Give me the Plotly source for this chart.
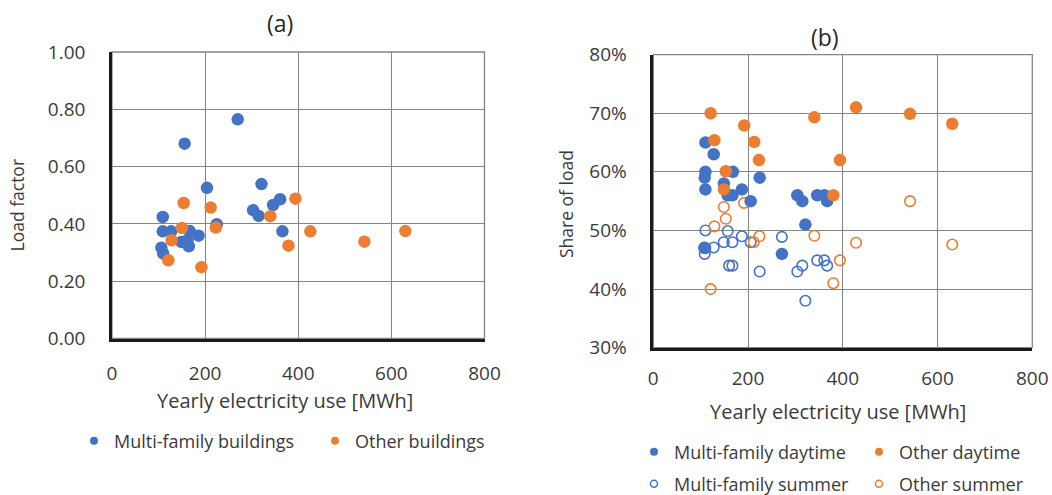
import plotly.graph_objects as go

# ---------------- data ----------------
# Panel (a): load factor vs yearly electricity use
mf_x_a = [156, 270, 204, 321, 361, 346, 303, 315, 109, 225, 366, 109, 127, 167, 186, 149, 162, 165, 106, 110]
mf_lf_a = [0.68, 0.765, 0.526, 0.539, 0.486, 0.466, 0.448, 0.428, 0.424, 0.399, 0.374, 0.374, 0.374, 0.375,
           0.359, 0.337, 0.343, 0.322, 0.317, 0.296]
ot_x_a = [154, 212, 150, 223, 128, 121, 192, 394, 340, 426, 379, 542, 630]
ot_lf_a = [0.473, 0.457, 0.386, 0.387, 0.343, 0.273, 0.249, 0.488, 0.427, 0.374, 0.324, 0.338, 0.375]

# Panel (b): share of load (%) vs yearly electricity use
mf_x_day = [110, 127.5, 110, 108.5, 168, 224.5, 149, 187, 110, 157, 167, 205.5, 304, 314.5, 346, 361, 367, 321, 271.5, 108]
mf_day = [65, 63, 60, 59, 60, 59, 58, 57, 57, 56, 56, 55, 56, 55, 56, 56, 55, 51, 46, 47]
mf_x_sum = [110, 157, 187, 271.5, 148.6, 167, 205.5, 108, 127.5, 108.5, 160, 167, 224.5, 304, 314.5, 346, 361, 367, 321, 110]
mf_sum = [50, 49.9, 49, 48.9, 48, 48, 48, 47.1, 47.1, 46, 44, 44, 43, 43, 44, 44.9, 44.9, 44, 38, 47]
ot_x_day = [121, 192, 129, 213, 223, 394, 340, 428, 153, 149, 380, 542, 631]
ot_day = [70, 67.9, 65.4, 65.1, 62, 62, 69.3, 71, 60.1, 57, 56, 69.9, 68.2]
ot_x_sum = [191.5, 149, 153, 129, 224, 212, 340, 428, 394, 380, 121, 542, 631]
ot_sum = [54.7, 54, 52, 50.7, 49, 48, 49.1, 47.9, 44.9, 41, 40, 55, 47.6]

x_ticks = [0, 200, 400, 600, 800]
lf_ticks = [0.0, 0.2, 0.4, 0.6, 0.8, 1.0]
share_ticks = [30, 40, 50, 60, 70, 80]
share_labels = ["30%", "40%", "50%", "60%", "70%", "80%"]

BLUE = "#4472C4"
ORANGE = "#ED7D31"
FONT = "Open Sans"
TXT = "#3a3a3a"
GRID = "#858585"
AXL = "#1a1a1a"

fig = go.Figure()

def add(x, y, color, filled, xa, ya, name, legend):
    if filled:
        marker = dict(size=12.5, color=color, line=dict(width=0))
        lmarker = dict(size=8, color=color, line=dict(width=0))
    else:
        marker = dict(size=10.5, color="rgba(0,0,0,0)", line=dict(width=1.6, color=color))
        lmarker = dict(size=7, color="rgba(0,0,0,0)", line=dict(width=1.5, color=color))
    fig.add_trace(go.Scatter(x=x, y=y, mode="markers", marker=marker, xaxis=xa, yaxis=ya,
                             showlegend=False, name=name, hoverinfo="x+y"))
    fig.add_trace(go.Scatter(x=[None], y=[None], mode="markers", marker=lmarker, xaxis=xa, yaxis=ya,
                             showlegend=True, name=name, legend=legend))

add(mf_x_a, mf_lf_a, BLUE, True, "x", "y", "Multi-family buildings", "legend")
add(ot_x_a, ot_lf_a, ORANGE, True, "x", "y", "Other buildings", "legend")

add(mf_x_sum, mf_sum, BLUE, False, "x2", "y2", "Multi-family summer", "legend3")
add(ot_x_sum, ot_sum, ORANGE, False, "x2", "y2", "Other summer", "legend3")
add(mf_x_day, mf_day, BLUE, True, "x2", "y2", "Multi-family daytime", "legend2")
add(ot_x_day, ot_day, ORANGE, True, "x2", "y2", "Other daytime", "legend2")

W, H = 1052, 495
def px(x):
    return x / W
def py(y):
    return 1 - y / H

xdomA = [px(112), px(484.5)]
ydomA = [py(338.5), py(52)]
xdomB = [px(653.3), px(1032.3)]
ydomB = [py(347.7), py(54.6)]

axis_common = dict(showgrid=True, gridcolor=GRID, gridwidth=1.3, zeroline=False,
                   showline=True, linecolor=AXL, linewidth=2.5, ticks="", automargin=False,
                   tickfont=dict(family=FONT, size=19, color=TXT), fixedrange=True)

leg_common = dict(orientation="h", yanchor="middle", xanchor="left", entrywidthmode="pixels",
                  bgcolor="rgba(0,0,0,0)", font=dict(family=FONT, size=18, color=TXT), itemwidth=30)

fig.update_layout(
    width=W, height=H,
    margin=dict(l=0, r=0, t=0, b=0, pad=0, autoexpand=False),
    paper_bgcolor="white", plot_bgcolor="white",
    font=dict(family=FONT, color=TXT),
    xaxis=dict(domain=xdomA, range=[0, 800], tickvals=x_ticks, anchor="y",
               ticklabelstandoff=16, **axis_common),
    yaxis=dict(domain=ydomA, range=[0, 1], tickvals=lf_ticks, tickformat=".2f", anchor="x",
               ticklabelstandoff=20, **axis_common),
    xaxis2=dict(domain=xdomB, range=[0, 800], tickvals=x_ticks, anchor="y2",
                ticklabelstandoff=12, **axis_common),
    yaxis2=dict(domain=ydomB, range=[30, 80], tickvals=share_ticks, ticktext=share_labels, anchor="x2",
                ticklabelstandoff=20, **axis_common),
    legend=dict(x=px(74), y=py(441), entrywidth=196, **leg_common),
    legend2=dict(x=px(634), y=py(452), entrywidth=180, **leg_common),
    legend3=dict(x=px(634), y=py(484), entrywidth=180, **leg_common),
)

# grey frame at top/right edges (gridline look)
for xr, yr in (("x domain", "y domain"), ("x2 domain", "y2 domain")):
    fig.add_shape(type="rect", xref=xr, yref=yr, x0=0, x1=1, y0=0, y1=1,
                  line=dict(color=GRID, width=1.3), layer="below")

def label(text, x, y, size, angle=0, color=TXT):
    fig.add_annotation(text=text, x=px(x), y=py(y), textangle=angle,
                       font=dict(family=FONT, size=size, color=color), showarrow=False,
                       xref="paper", yref="paper", xanchor="center", yanchor="middle")

label("(a)", 280, 23, 23, color="#262626")
label("(b)", 825, 37, 23, color="#262626")
label("Yearly electricity use [MWh]", 285, 400, 20)
label("Yearly electricity use [MWh]", 838, 411, 20)
label("Load factor", 16, 205.5, 17.5, angle=-90)
label("Share of load", 566, 204, 17.5, angle=-90)

fig.write_html("out.html")
